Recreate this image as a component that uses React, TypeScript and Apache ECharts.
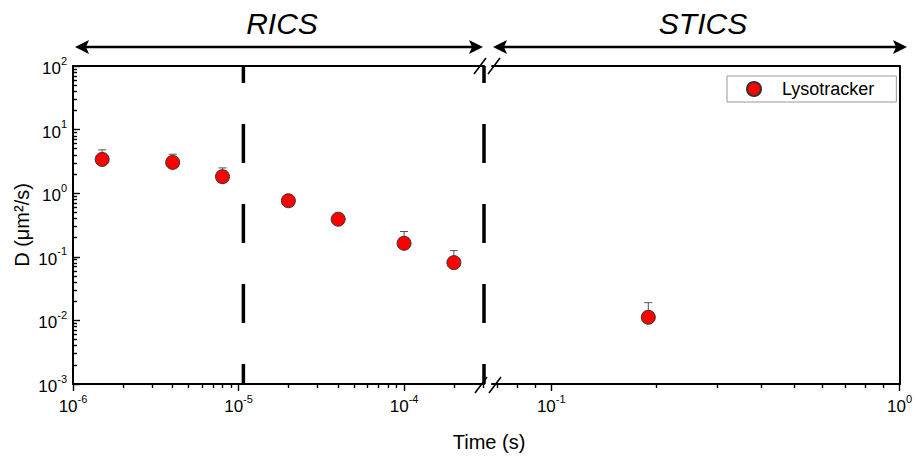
import React, { useEffect, useRef } from "react";
import * as echarts from "echarts";

// ---- data ----
const seriesName = "Lysotracker";
const ricsTimes = [1.5e-6, 4e-6, 8e-6, 2e-5, 4e-5, 1e-4, 2e-4];
const ricsD = [3.4, 3.05, 1.82, 0.76, 0.39, 0.163, 0.081];
const ricsErr = [1.4, 1.05, 0.68, 0.09, 0.06, 0.087, 0.044];
const sticsTimes = [0.19];
const sticsD = [0.0112];
const sticsErr = [0.0078];
const dividerTimes = [1.07e-5, 3.04e-4];
const ricsRange = [1e-6, 3.04e-4];
const sticsRange = [0.0676, 1];
const dRange = [1e-3, 1e2];
const ricsDecades = [-6, -5, -4];
const sticsDecades = [-1, 0];
const dDecades = [-3, -2, -1, 0, 1, 2];
const regionLabels = ["RICS", "STICS"];
const xAxisTitle = "Time (s)";
const yAxisTitle = "D (μm²/s)";

const FONT = '"Liberation Sans", Arial, Helvetica, sans-serif';
const L = (v: number) => Math.log10(v);

function logTicks(lo: number, hi: number, major: boolean) {
  const a = L(lo), b = L(hi);
  const out: number[] = [];
  for (let n = Math.floor(a) - 1; n <= Math.ceil(b); n++) {
    for (let k = 1; k <= 9; k++) {
      if ((k === 1) !== major) continue;
      const v = n + L(k);
      if (v >= a - 1e-9 && v <= b + 1e-9) out.push(v);
    }
  }
  return out;
}

const supLabel = (v: number) => `{b|10}{s|${Math.round(v)}}`;
const labelRich = {
  b: { fontSize: 17, fontFamily: FONT, color: "#000", lineHeight: 22, verticalAlign: "bottom" },
  s: { fontSize: 11, fontFamily: FONT, color: "#000", lineHeight: 11, verticalAlign: "top" },
};

function errSeries(name: string, xi: number, yi: number, xs: number[], ys: number[], es: number[]) {
  return {
    type: "custom",
    name,
    xAxisIndex: xi,
    yAxisIndex: yi,
    silent: true,
    z: 3,
    data: xs.map((x, i) => [L(x), L(ys[i])]),
    renderItem: (params: any, api: any) => {
      const i = params.dataIndex;
      const base = api.coord([L(xs[i]), L(ys[i])]);
      const top = api.coord([L(xs[i]), L(ys[i] + es[i])]);
      return {
        type: "group",
        children: [
          { type: "line", shape: { x1: base[0], y1: base[1], x2: top[0], y2: top[1] }, style: { stroke: "#555", lineWidth: 1 } },
          { type: "line", shape: { x1: top[0] - 4, y1: top[1], x2: top[0] + 4, y2: top[1] }, style: { stroke: "#555", lineWidth: 1 } },
        ],
      };
    },
  };
}

function dividerSeries() {
  return {
    type: "custom",
    name: "_div",
    xAxisIndex: 0,
    yAxisIndex: 0,
    silent: true,
    clip: false,
    z: 4,
    data: dividerTimes.map((t) => [L(t), L(dRange[1])]),
    renderItem: (params: any, api: any) => {
      const t = dividerTimes[params.dataIndex];
      const a = api.coord([L(t), L(dRange[1])]);
      const b = api.coord([L(t), L(dRange[0])]);
      return {
        type: "line",
        shape: { x1: a[0], y1: a[1], x2: b[0], y2: b[1] },
        style: { stroke: "#000", lineWidth: 3.5, lineDash: [39, 41], lineDashOffset: 22 },
      };
    },
  };
}

function arrow(x1: number, x2: number, y: number) {
  const h = 14, w = 7;
  return [
    { type: "line", shape: { x1: x1 + 4, y1: y, x2: x2 - 4, y2: y }, style: { stroke: "#000", lineWidth: 2.5 } },
    { type: "polygon", shape: { points: [[x1, y], [x1 + h, y - w], [x1 + h - 3, y], [x1 + h, y + w]] }, style: { fill: "#000" } },
    { type: "polygon", shape: { points: [[x2, y], [x2 - h, y - w], [x2 - h + 3, y], [x2 - h, y + w]] }, style: { fill: "#000" } },
  ];
}

function slash(cx: number, cy: number) {
  return { type: "line", shape: { x1: cx - 6, y1: cy + 8, x2: cx + 6, y2: cy - 8 }, style: { stroke: "#000", lineWidth: 1.5 } };
}

export default function App() {
  const ref = useRef<HTMLDivElement>(null);
  useEffect(() => {
    if (!ref.current) return;
    const chart = echarts.init(ref.current, null, { renderer: "svg" });
    const axisLine = { show: true, onZero: false, lineStyle: { color: "#000", width: 2 } };
    const tickStyle = { color: "#000", width: 1.4 };
    const xBottom = (gi: number, range: number[], decades: number[]) => ({
      type: "value",
      gridIndex: gi,
      position: "bottom",
      min: L(range[0]),
      max: L(range[1]),
      axisLine,
      axisTick: { show: true, inside: false, length: 7, customValues: logTicks(range[0], range[1], true), lineStyle: tickStyle },
      splitLine: { show: false },
      axisLabel: {
        customValues: decades,
        margin: 9,
        formatter: (v: number) => (Math.abs(v - Math.round(v)) < 1e-6 ? supLabel(v) : ""),
        rich: labelRich,
      },
    });
    const xMinor = (gi: number, range: number[]) => ({
      type: "value",
      gridIndex: gi,
      position: "bottom",
      offset: 0,
      min: L(range[0]),
      max: L(range[1]),
      axisLine: { show: false, onZero: false },
      axisTick: { show: true, inside: false, length: 4, customValues: logTicks(range[0], range[1], false), lineStyle: tickStyle },
      axisLabel: { show: false },
      splitLine: { show: false },
    });
    const xTop = (gi: number, range: number[]) => ({
      type: "value",
      gridIndex: gi,
      position: "top",
      min: L(range[0]),
      max: L(range[1]),
      axisLine,
      axisTick: { show: false },
      axisLabel: { show: false },
      splitLine: { show: false },
    });
    const option: any = {
      animation: false,
      backgroundColor: "#fff",
      textStyle: { fontFamily: FONT },
      grid: [
        { left: 73, top: 66, width: 411, height: 318 },
        { left: 492, top: 66, width: 413, height: 318 },
      ],
      xAxis: [
        xBottom(0, ricsRange, ricsDecades),
        xTop(0, ricsRange),
        xBottom(1, sticsRange, sticsDecades),
        xTop(1, sticsRange),
        xMinor(0, ricsRange),
        xMinor(1, sticsRange),
      ],
      yAxis: [
        {
          type: "value",
          gridIndex: 0,
          position: "left",
          min: L(dRange[0]),
          max: L(dRange[1]),
          interval: 1,
          axisLine,
          axisTick: { show: true, inside: true, length: 7, customValues: logTicks(dRange[0], dRange[1], true), lineStyle: tickStyle },
          splitLine: { show: false },
          axisLabel: { customValues: dDecades, margin: 6, formatter: (v: number) => supLabel(v), rich: labelRich },
          name: yAxisTitle,
          nameLocation: "middle",
          nameGap: 41,
          nameTextStyle: { fontSize: 20, fontFamily: FONT, color: "#000" },
        },
        {
          type: "value",
          gridIndex: 1,
          position: "right",
          min: L(dRange[0]),
          max: L(dRange[1]),
          axisLine,
          axisTick: { show: false },
          axisLabel: { show: false },
          splitLine: { show: false },
        },
        {
          type: "value",
          gridIndex: 0,
          position: "left",
          offset: 0,
          min: L(dRange[0]),
          max: L(dRange[1]),
          axisLine: { show: false, onZero: false },
          axisTick: { show: true, inside: true, length: 4, customValues: logTicks(dRange[0], dRange[1], false), lineStyle: tickStyle },
          axisLabel: { show: false },
          splitLine: { show: false },
        },
      ],
      legend: {
        data: [seriesName],
        left: 727,
        top: 76,
        orient: "vertical",
        borderColor: "#999",
        borderWidth: 1,
        padding: [4, 22, 4, 19],
        itemWidth: 14,
        itemHeight: 14,
        icon: "circle",
        textStyle: { fontSize: 18, fontFamily: FONT, color: "#000", padding: [0, 0, 0, 16] },
      },
      series: [
        dividerSeries(),
        errSeries("_e1", 0, 0, ricsTimes, ricsD, ricsErr),
        errSeries("_e2", 2, 1, sticsTimes, sticsD, sticsErr),
        {
          type: "scatter",
          name: seriesName,
          xAxisIndex: 0,
          yAxisIndex: 0,
          z: 6,
          symbolSize: 14,
          itemStyle: { color: "#ff0000", borderColor: "#333", borderWidth: 1, opacity: 1 },
          data: ricsTimes.map((t, i) => [L(t), L(ricsD[i])]),
        },
        {
          type: "scatter",
          name: seriesName,
          xAxisIndex: 2,
          yAxisIndex: 1,
          z: 6,
          symbolSize: 14,
          itemStyle: { color: "#ff0000", borderColor: "#333", borderWidth: 1, opacity: 1 },
          data: sticsTimes.map((t, i) => [L(t), L(sticsD[i])]),
        },
      ],
      graphic: [
        {
          type: "text",
          x: 282,
          y: 23,
          style: { text: regionLabels[0], fontSize: 30, fontStyle: "italic", fontFamily: FONT, fill: "#000", align: "center", verticalAlign: "middle" },
        },
        {
          type: "text",
          x: 703,
          y: 23,
          style: { text: regionLabels[1], fontSize: 30, fontStyle: "italic", fontFamily: FONT, fill: "#000", align: "center", verticalAlign: "middle" },
        },
        {
          type: "text",
          x: 489,
          y: 442,
          style: { text: xAxisTitle, fontSize: 20, fontFamily: FONT, fill: "#000", align: "center", verticalAlign: "middle" },
        },
        ...arrow(75, 483, 47),
        ...arrow(493, 907, 47),
        slash(481, 385),
        slash(495, 385),
        slash(480, 66),
        slash(494, 66),
      ],
    };
    chart.setOption(option);
    return () => chart.dispose();
  }, []);
  return <div ref={ref} style={{ position: "fixed", left: 0, top: 0, width: 915, height: 457 }} />;
}
